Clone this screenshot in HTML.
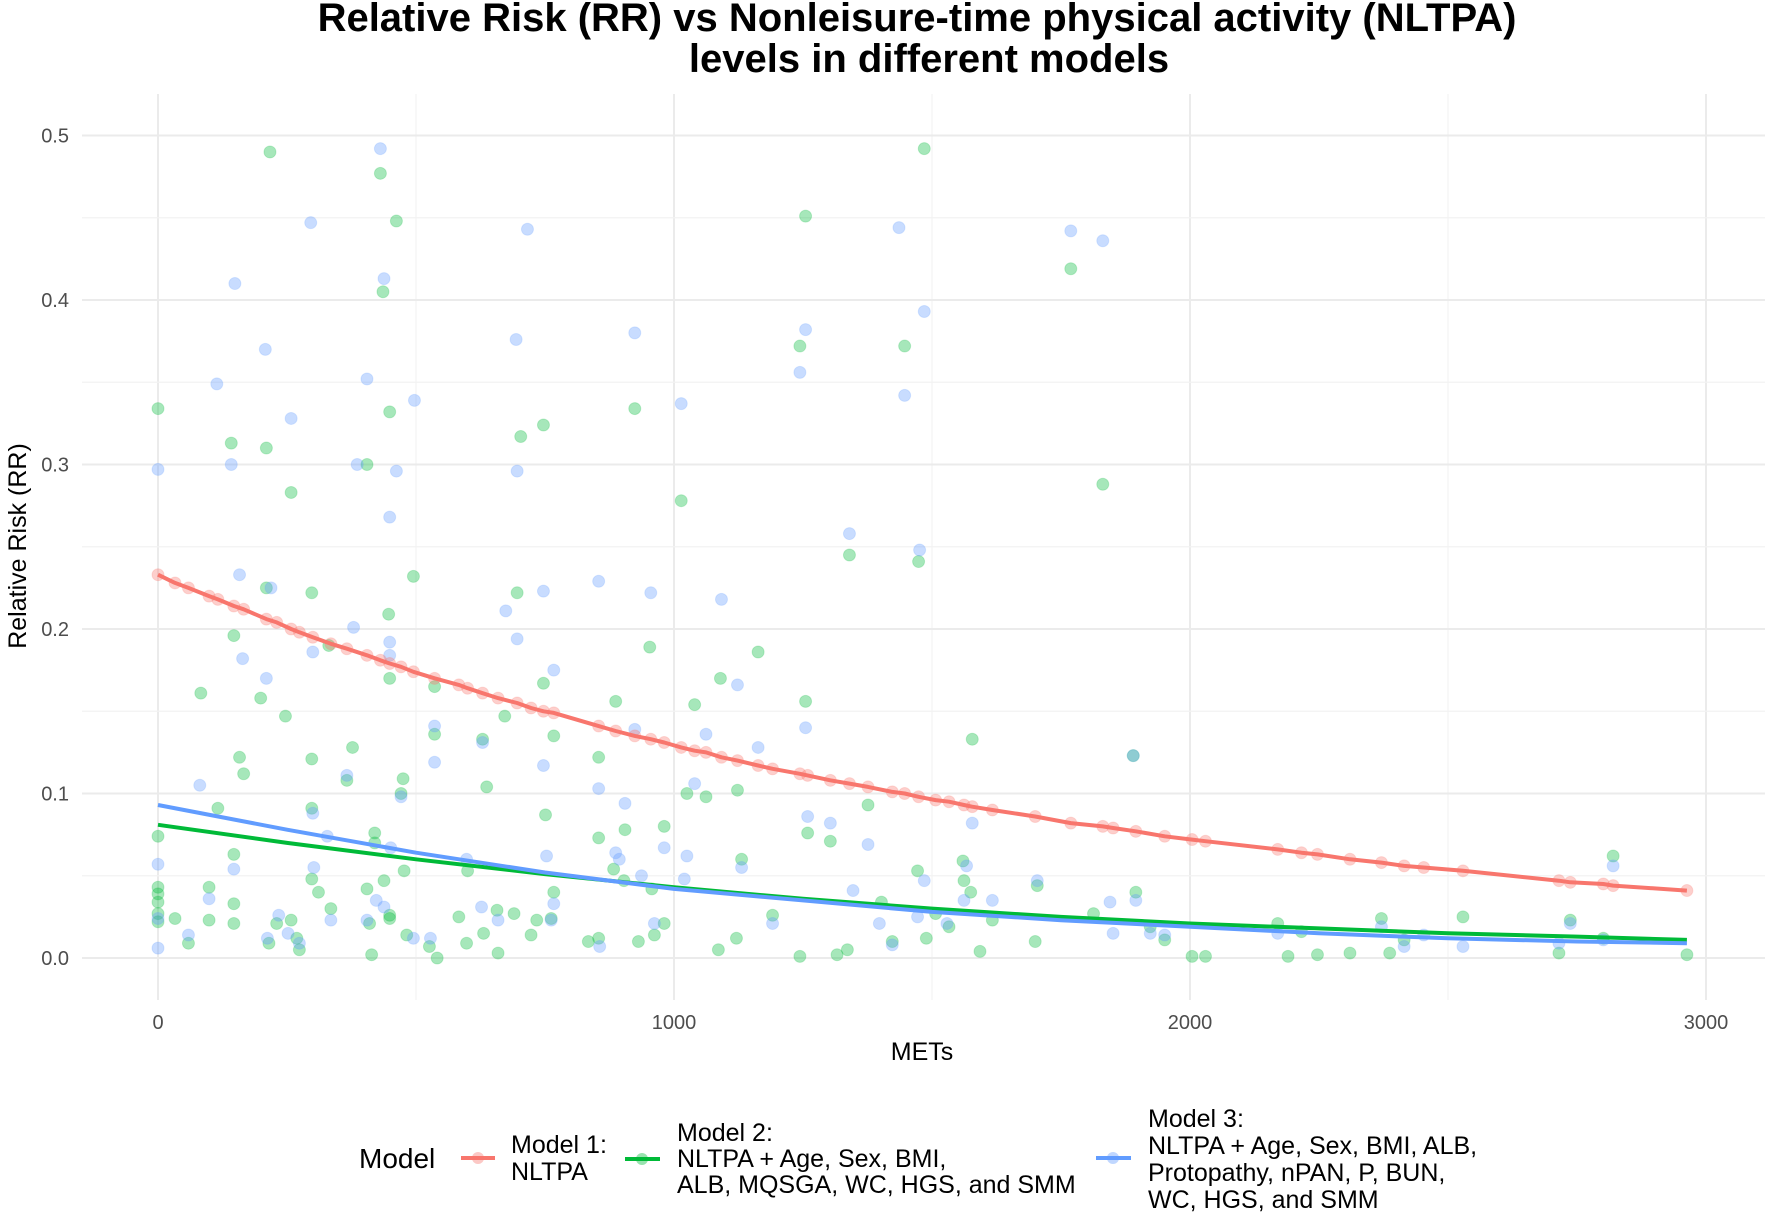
<!DOCTYPE html>
<html><head><meta charset="utf-8">
<style>
html,body{margin:0;padding:0;background:#fff;}
svg{display:block;font-family:"Liberation Sans",Arial,sans-serif;}
</style></head>
<body>
<svg id="chart" width="1772" height="1212" viewBox="0 0 1772 1212" xmlns="http://www.w3.org/2000/svg">
<rect width="1772" height="1212" fill="#fff"/>
<text x="917" y="31" text-anchor="middle" font-size="40" font-weight="bold" fill="#000">Relative Risk (RR) vs Nonleisure-time physical activity (NLTPA)</text>
<text x="929" y="72" text-anchor="middle" font-size="40" font-weight="bold" fill="#000">levels in different models</text>
<g id="grid"></g>
<g id="yticks"></g>
<g id="xticks"></g>
<g id="points"></g>
<g id="lines"></g>
<text x="922" y="1060" text-anchor="middle" font-size="25" fill="#000">METs</text>
<text transform="translate(26,546) rotate(-90)" text-anchor="middle" font-size="25" fill="#000">Relative Risk (RR)</text>
<g font-size="25" fill="#000">
  <text x="359" y="1168" font-size="28">Model</text>
  <g>
    <line x1="461" y1="1158" x2="495" y2="1158" stroke="#F8766D" stroke-width="4"/>
    <circle cx="478" cy="1158" r="6" fill="#F8766D" fill-opacity="0.4"/>
    <text x="511" y="1153">Model 1:</text>
    <text x="511" y="1180">NLTPA</text>
  </g>
  <g>
    <line x1="625" y1="1159" x2="660" y2="1159" stroke="#00BA38" stroke-width="4"/>
    <circle cx="642" cy="1159" r="6" fill="#00BA38" fill-opacity="0.4"/>
    <text x="677" y="1141">Model 2:</text>
    <text x="677" y="1167">NLTPA + Age, Sex, BMI,</text>
    <text x="677" y="1193">ALB, MQSGA, WC, HGS, and SMM</text>
  </g>
  <g>
    <line x1="1096" y1="1158" x2="1131" y2="1158" stroke="#619CFF" stroke-width="4"/>
    <circle cx="1113" cy="1158" r="6" fill="#619CFF" fill-opacity="0.4"/>
    <text x="1148" y="1127">Model 3:</text>
    <text x="1148" y="1154">NLTPA + Age, Sex, BMI, ALB,</text>
    <text x="1148" y="1181">Protopathy, nPAN, P, BUN,</text>
    <text x="1148" y="1208">WC, HGS, and SMM</text>
  </g>
</g>
</svg>
<script>
const xTicks=[0,1000,2000,3000];
const yTicks=[0,0.1,0.2,0.3,0.4,0.5];
const yTickLabels=["0.0","0.1","0.2","0.3","0.4","0.5"];
const m1X=[0,33,59,99,116,147,166,210,230,258,274,300,335,366,405,431,449,471,495,536,583,600,629,659,696,723,747,767,854,887,924,955,981,1014,1040,1062,1092,1123,1163,1191,1244,1259,1303,1340,1376,1423,1447,1474,1507,1533,1562,1578,1617,1700,1769,1831,1851,1895,1951,2004,2030,2170,2216,2247,2310,2371,2415,2453,2529,2715,2737,2801,2820,2963];
const m1Y=[0.233,0.228,0.225,0.220,0.218,0.214,0.212,0.206,0.204,0.200,0.198,0.195,0.191,0.188,0.184,0.181,0.179,0.177,0.174,0.170,0.166,0.164,0.161,0.158,0.155,0.152,0.150,0.149,0.141,0.138,0.135,0.133,0.131,0.128,0.126,0.125,0.122,0.120,0.117,0.115,0.112,0.111,0.108,0.106,0.104,0.101,0.100,0.098,0.096,0.095,0.093,0.092,0.090,0.086,0.082,0.080,0.079,0.077,0.074,0.072,0.071,0.066,0.064,0.063,0.060,0.058,0.056,0.055,0.053,0.047,0.046,0.045,0.044,0.041];
const m2X=[0,0,0,0,0,0,0,33,83,59,99,99,116,142,147,158,166,147,147,147,210,217,199,210,215,230,247,258,258,269,274,298,298,298,298,311,335,331,377,366,405,420,420,405,410,414,431,436,447,449,449,438,449,449,462,471,475,477,495,482,536,536,526,541,583,600,598,629,637,631,657,659,672,690,696,703,723,734,747,747,751,767,767,762,834,854,854,854,887,883,905,903,924,931,953,962,957,981,981,1014,1025,1040,1062,1090,1086,1123,1131,1121,1163,1191,1244,1255,1244,1255,1259,1303,1316,1336,1340,1376,1402,1423,1447,1474,1472,1485,1489,1507,1533,1560,1562,1578,1575,1593,1617,1700,1704,1769,1813,1831,1890,1895,1923,1951,2004,2030,2170,2190,2216,2247,2310,2371,2387,2415,2529,2715,2737,2801,2820,2963];
const m2Y=[0.334,0.074,0.043,0.039,0.034,0.027,0.022,0.024,0.161,0.009,0.043,0.023,0.091,0.313,0.196,0.122,0.112,0.063,0.033,0.021,0.310,0.490,0.158,0.225,0.009,0.021,0.147,0.283,0.023,0.012,0.005,0.222,0.121,0.091,0.048,0.040,0.030,0.190,0.128,0.108,0.300,0.076,0.070,0.042,0.021,0.002,0.477,0.405,0.209,0.332,0.170,0.047,0.026,0.024,0.448,0.100,0.109,0.053,0.232,0.014,0.165,0.136,0.007,0.000,0.025,0.053,0.009,0.133,0.104,0.015,0.029,0.003,0.147,0.027,0.222,0.317,0.014,0.023,0.324,0.167,0.087,0.135,0.040,0.024,0.010,0.122,0.073,0.012,0.156,0.054,0.078,0.047,0.334,0.010,0.189,0.014,0.042,0.080,0.021,0.278,0.100,0.154,0.098,0.170,0.005,0.102,0.060,0.012,0.186,0.026,0.001,0.451,0.372,0.156,0.076,0.071,0.002,0.005,0.245,0.093,0.034,0.010,0.372,0.241,0.053,0.492,0.012,0.027,0.019,0.059,0.047,0.133,0.040,0.004,0.023,0.010,0.044,0.419,0.027,0.288,0.123,0.040,0.019,0.011,0.001,0.001,0.021,0.001,0.016,0.002,0.003,0.024,0.003,0.011,0.025,0.003,0.023,0.012,0.062,0.002];
const m3X=[0,0,0,0,81,59,99,114,149,142,158,164,147,208,210,219,234,212,252,258,296,300,302,300,274,335,328,379,386,366,405,405,423,431,438,449,449,449,438,451,462,471,497,495,536,536,528,598,629,627,659,674,694,696,696,716,747,747,753,767,762,767,854,854,856,924,887,905,894,924,937,955,962,981,1014,1025,1020,1040,1062,1092,1123,1131,1163,1191,1244,1255,1255,1259,1303,1340,1347,1376,1398,1423,1436,1447,1485,1476,1485,1472,1529,1578,1567,1562,1617,1704,1769,1831,1845,1851,1890,1895,1923,1951,2170,2371,2415,2453,2529,2715,2737,2801,2820];
const m3Y=[0.297,0.057,0.006,0.024,0.105,0.014,0.036,0.349,0.410,0.300,0.233,0.182,0.054,0.370,0.170,0.225,0.026,0.012,0.015,0.328,0.447,0.186,0.055,0.088,0.009,0.023,0.074,0.201,0.300,0.111,0.352,0.023,0.035,0.492,0.413,0.268,0.192,0.184,0.031,0.067,0.296,0.098,0.339,0.012,0.141,0.119,0.012,0.060,0.131,0.031,0.023,0.211,0.376,0.194,0.296,0.443,0.223,0.117,0.062,0.175,0.023,0.033,0.229,0.103,0.007,0.380,0.064,0.094,0.060,0.139,0.050,0.222,0.021,0.067,0.337,0.062,0.048,0.106,0.136,0.218,0.166,0.055,0.128,0.021,0.356,0.382,0.140,0.086,0.082,0.258,0.041,0.069,0.021,0.008,0.444,0.342,0.393,0.248,0.047,0.025,0.021,0.082,0.056,0.035,0.035,0.047,0.442,0.436,0.034,0.015,0.123,0.035,0.015,0.014,0.015,0.019,0.007,0.014,0.007,0.009,0.021,0.011,0.056];
const fitX=[0,250,500,750,1000,1250,1500,1750,2000,2250,2500,2750,2963];
const fit2Y=[0.081,0.070,0.060,0.051,0.043,0.036,0.030,0.025,0.021,0.018,0.015,0.013,0.011];
const fit3Y=[0.093,0.078,0.064,0.052,0.042,0.035,0.028,0.023,0.019,0.015,0.012,0.010,0.009];

const NS="http://www.w3.org/2000/svg";
const PX0=158,PX1=1706,PY0=958,PY5=135.5;
const panelL=82,panelR=1765,panelT=94,panelB=1000;
function sx(v){return PX0+(v-0)*(PX1-PX0)/3000;}
function sy(v){return PY0-(v-0)*(PY0-PY5)/0.5;}
function mk(tag,attrs,parent){const e=document.createElementNS(NS,tag);for(const k in attrs)e.setAttribute(k,attrs[k]);parent.appendChild(e);return e;}

const grid=document.getElementById('grid');
for(let i=0;i<xTicks.length;i++){
  const v=xTicks[i];
  const l=mk('line',{x1:sx(v),x2:sx(v),y1:panelT,y2:panelB,stroke:'#ebebeb','stroke-width':2},grid);
  
  
  if(i<xTicks.length-1){
    const m=(xTicks[i]+xTicks[i+1])/2;
    const l2=mk('line',{x1:sx(m),x2:sx(m),y1:panelT,y2:panelB,stroke:'#f2f2f2','stroke-width':1.2},grid);
    
    
  }
}
for(let i=0;i<yTicks.length;i++){
  const v=yTicks[i];
  const l=mk('line',{x1:panelL,x2:panelR,y1:sy(v),y2:sy(v),stroke:'#ebebeb','stroke-width':2},grid);
  
  
  if(i<yTicks.length-1){
    const m=(yTicks[i]+yTicks[i+1])/2;
    const l2=mk('line',{x1:panelL,x2:panelR,y1:sy(m),y2:sy(m),stroke:'#f2f2f2','stroke-width':1.2},grid);
    
    
  }
}
const yt=document.getElementById('yticks');
yTicks.forEach((v,i)=>{
  const t=mk('text',{x:69,y:sy(v)+7,'text-anchor':'end','font-size':20,fill:'#4d4d4d'},yt);
  t.textContent=yTickLabels[i];
  
  
});
const xt=document.getElementById('xticks');
xTicks.forEach(v=>{
  const t=mk('text',{x:sx(v),y:1029,'text-anchor':'middle','font-size':20,fill:'#4d4d4d'},xt);
  t.textContent=String(v);
  
  
});
const pts=document.getElementById('points');
function drawPts(xs,ys,col,name){
  for(let i=0;i<xs.length;i++){
    const c=mk('circle',{cx:sx(xs[i]),cy:sy(ys[i]),r:6,fill:col,'fill-opacity':0.35,stroke:col,'stroke-opacity':0.2,'stroke-width':1},pts);
    
    
  }
}
drawPts(m2X,m2Y,'#00BA38','model-2-point');
drawPts(m3X,m3Y,'#619CFF','model-3-point');
drawPts(m1X,m1Y,'#F8766D','model-1-point');
const lines=document.getElementById('lines');
function drawLine(xs,ys,col,name){
  const d=xs.map((x,i)=>(i?'L':'M')+sx(x).toFixed(1)+','+sy(ys[i]).toFixed(1)).join(' ');
  const p=mk('path',{d:d,fill:'none',stroke:col,'stroke-width':4,'stroke-linejoin':'round'},lines);
  
  
}
drawLine(fitX,fit2Y,'#00BA38','model-2-line');
drawLine(fitX,fit3Y,'#619CFF','model-3-line');
drawLine(m1X,m1Y,'#F8766D','model-1-line');
</script>
</body></html>
